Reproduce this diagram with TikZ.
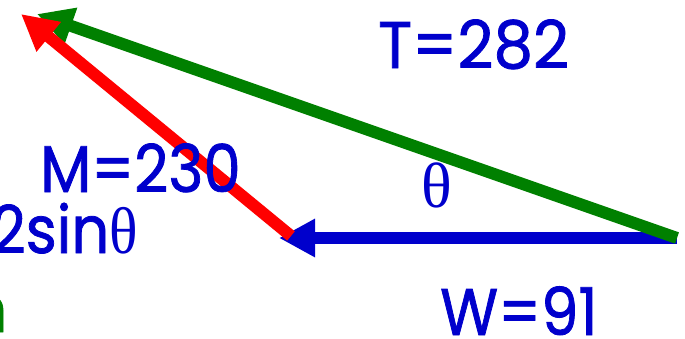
\documentclass[tikz,border=0pt]{standalone}
\usepackage{fontspec}
\setmainfont{Poppins}
\newfontfamily\lblfont[FakeBold=1.2]{Poppins}
\newfontfamily\thetafont{Liberation Serif}
\usetikzlibrary{arrows.meta}
\definecolor{myblue}{HTML}{0000CC}
\definecolor{myred}{HTML}{FF0000}
\definecolor{mygreen}{HTML}{008000}
\begin{document}
\begin{tikzpicture}[x=1pt,y=-1pt,
  vec/.style={line width=12pt,-{Triangle[length=36pt,width=36pt]}},
  lbl/.style={inner sep=0pt,text=myblue,font=\lblfont\fontsize{66}{66}\selectfont},
  thl/.style={inner sep=0pt,text=myblue,font=\thetafont\fontsize{64}{64}\selectfont}]
\useasboundingbox (0,0) rectangle (685,338);
\clip (0,0) rectangle (685,338);
\coordinate (O) at (677,238);
\coordinate (Wtip) at (279,238);
\coordinate (Mstart) at (291,236);
\coordinate (Mtip) at (21,14);
\coordinate (Ttip) at (37,14);
\draw[vec,myblue] (O) -- (Wtip);
\draw[vec,mygreen] (O) -- (Ttip);
\draw[vec,myred] (Mstart) -- (Mtip);
\node[lbl,anchor=base west,xscale=0.95] (T) at (378,68) {T=282};
\node[lbl,anchor=base west,xscale=0.9] (M) at (40,192) {M=230};
\node[lbl,anchor=base east,xscale=0.9] (S) at (138,253) {2sin{\thetafont θ}};
\node[lbl,anchor=base west,xscale=0.9] (W) at (440,335) {W=91};
\node[thl,anchor=base] (th) at (437,207) {θ};
\node[lbl,anchor=base east,text=mygreen] (n) at (8,332) {n};
\end{tikzpicture}
\end{document}
